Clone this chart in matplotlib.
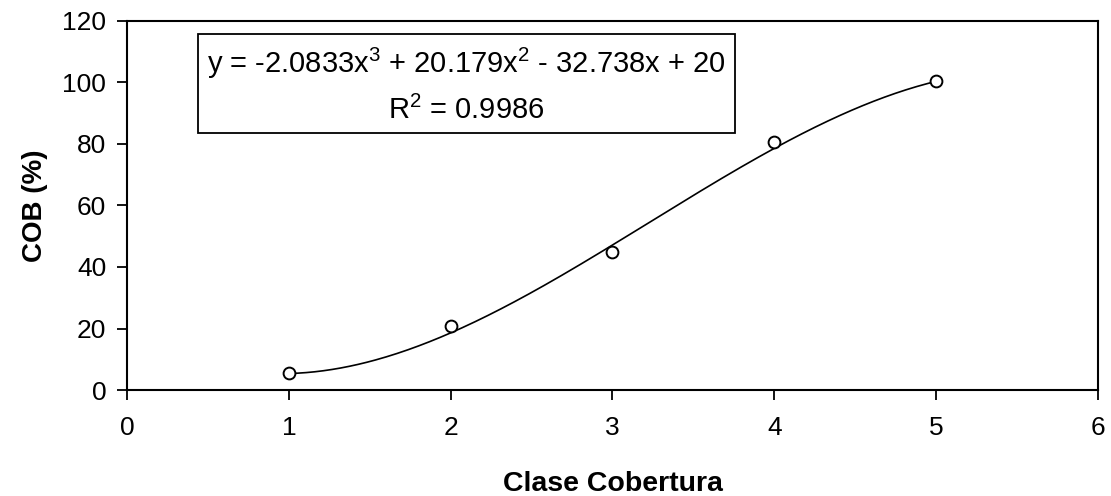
import numpy as np
import matplotlib.pyplot as plt
from matplotlib.patches import Rectangle

plt.rcParams['font.family'] = ['Liberation Sans', 'DejaVu Sans']
plt.rcParams['mathtext.fontset'] = 'custom'
plt.rcParams['mathtext.rm'] = 'Liberation Sans'
plt.rcParams['mathtext.default'] = 'regular'

# data
clase = [1, 2, 3, 4, 5]
cob = [5.4, 20.9, 45.0, 80.7, 100.6]
# trendline coefficients as printed in the chart (x^3, x^2, x, 1)
coef = [-2.0833, 20.179, -32.738, 20]
eq_text = 'y = -2.0833x$^{3}$ + 20.179x$^{2}$ - 32.738x + 20'
r2_text = 'R$^{2}$ = 0.9986'

fig = plt.figure(figsize=(11.11, 4.96), dpi=100)
ax = fig.add_axes([0.1143, 0.2137, 0.874, 0.9577 - 0.2137])

xs = np.linspace(clase[0], clase[-1], 300)
ax.plot(xs, np.polyval(coef, xs), color='black', lw=1.2)
ax.plot(clase, cob, 'o', mfc='white', mec='black', ms=8.5, mew=1.4)

ax.set_xlim(0, 6)
ax.set_ylim(0, 120)
ax.set_xticks(range(0, 7))
ax.set_yticks(range(0, 121, 20))
ax.tick_params(direction='out', length=7, width=1.3, labelsize=19)
ax.tick_params(axis='x', pad=12)
ax.tick_params(axis='y', pad=8)
for s in ax.spines.values():
    s.set_linewidth(1.5)

ax.set_xlabel('Clase Cobertura', fontsize=20.5, fontweight='bold', labelpad=22)
ax.set_ylabel('COB (%)', fontsize=20, fontweight='bold', labelpad=10)

# equation box
ax.add_patch(Rectangle((0.073, 0.696), 0.553, 0.269, transform=ax.transAxes,
                       fill=False, edgecolor='black', lw=1.3))
ax.text(0.349, 0.885, eq_text, transform=ax.transAxes, ha='center', va='center', fontsize=21)
ax.text(0.349, 0.758, r2_text, transform=ax.transAxes, ha='center', va='center', fontsize=21)

fig.savefig('out.png', dpi=100)
